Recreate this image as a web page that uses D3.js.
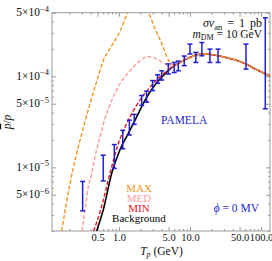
<!DOCTYPE html>
<html>
<head>
<meta charset="utf-8">
<script src="https://cdn.jsdelivr.net/npm/d3@7"></script>
<style>
  body { margin: 0; background: #fff; }
  text { font-family: "Liberation Serif", "DejaVu Serif", serif; }
  .axis path, .axis line { stroke: #999; }
</style>
</head>
<body>
<div id="chart"></div>
<script>
// kinetic energy grid (GeV) and ratio values
var tBg = [0.485, 0.6, 0.79, 1.03, 1.35, 1.77, 2.32, 3.04, 4.0, 5.2, 8, 15, 32, 61, 76, 134];
var bgVals = [2e-6, 3.4e-6, 8.6e-6, 1.55e-5, 2.35e-5, 3.57e-5, 5.43e-5, 7.58e-5, 9.75e-5, 1.2e-4, 1.48e-4, 1.77e-4, 1.61e-4, 1.37e-4, 1.25e-4, 1.01e-4];

var tMin = [0.44, 0.553, 0.747, 0.98, 1.28, 1.77, 2.73, 4.2, 5.5, 8, 15, 32, 61, 76, 134];
var minVals = [2e-6, 3.42e-6, 8.6e-6, 1.83e-5, 3.0e-5, 4.8e-5, 7.6e-5, 1.06e-4, 1.24e-4, 1.48e-4, 1.77e-4, 1.61e-4, 1.37e-4, 1.25e-4, 1.01e-4];

var tMed = [0.301, 0.343, 0.37, 0.413, 0.459, 0.54, 0.635, 0.79, 1.03, 1.43, 1.98, 2.59, 3.39, 4.44, 5.5, 8, 15, 32, 61, 76, 134];
var medVals = [2e-6, 4.05e-6, 6.1e-6, 8.6e-6, 1.3e-5, 2.16e-5, 3.43e-5, 5.43e-5, 8.26e-5, 1.15e-4, 1.48e-4, 1.65e-4, 1.55e-4, 1.37e-4, 1.28e-4, 1.48e-4, 1.77e-4, 1.61e-4, 1.37e-4, 1.25e-4, 1.01e-4];

var tMax = [0.156, 0.204, 0.254, 0.314, 0.39, 0.485, 0.6, 0.8, 1.05, 1.33, 1.7, 2.1, 2.6, 3.3, 4.0, 5.0, 6.0, 8, 15, 32, 61, 76, 134];
var maxVals = [2e-6, 6.6e-6, 1.42e-5, 2.7e-5, 5.0e-5, 8.8e-5, 1.48e-4, 2.2e-4, 3.2e-4, 5e-4, 6.5e-4, 6.6e-4, 5e-4, 3.2e-4, 2.3e-4, 1.5e-4, 1.33e-4, 1.48e-4, 1.77e-4, 1.61e-4, 1.37e-4, 1.25e-4, 1.01e-4];

// PAMELA points
var pT = [0.308, 0.60, 0.86, 1.13, 1.40, 1.64, 2.09, 2.45, 2.98, 3.5, 4.0, 4.95, 6.0, 6.85, 8.3, 10.0, 12.1, 14.7, 19.1, 24.9, 61.5, 115];
var pLo = [3.33e-6, 7.1e-6, 9.75e-6, 1.6e-5, 2.27e-5, 2.97e-5, 4.8e-5, 5.2e-5, 6.98e-5, 8.4e-5, 9.1e-5, 1.06e-4, 1.1e-4, 1.15e-4, 1.31e-4, 1.76e-4, 1.42e-4, 1.68e-4, 1.42e-4, 1.42e-4, 1.2e-4, 4.4e-5];
var pHi = [7.0e-6, 1.36e-5, 1.78e-5, 2.55e-5, 3.3e-5, 3.82e-5, 6.16e-5, 6.86e-5, 8.98e-5, 1.04e-4, 1.15e-4, 1.37e-4, 1.42e-4, 1.47e-4, 1.67e-4, 2.26e-4, 1.83e-4, 2.35e-4, 1.99e-4, 1.99e-4, 2.26e-4, 4.4e-4];

var xMajor = [0.5, 1, 5, 10, 50, 100];
var xMinor = [0.2, 0.3, 0.4, 0.6, 0.7, 0.8, 0.9, 2, 3, 4, 6, 7, 8, 9, 20, 30, 40, 60, 70, 80, 90];
var yMajor = [5e-6, 1e-5, 5e-5, 1e-4, 5e-4];
var yMajorMant = ["5", "1", "5", "1", "5"];
var yMajorExp = ["\u22126", "\u22125", "\u22125", "\u22124", "\u22124"];
var yMinor = [2e-6, 3e-6, 4e-6, 6e-6, 7e-6, 8e-6, 9e-6, 2e-5, 3e-5, 4e-5, 6e-5, 7e-5, 8e-5, 9e-5, 2e-4, 3e-4, 4e-4];

var W = 272, H = 261;
var pLeft = 52, pRight = 270, pTop = 12.7, pBottom = 231;

var svg = d3.select("#chart").append("svg")
  .attr("width", W).attr("height", H);

var x = d3.scaleLog().domain([0.114, 134]).range([pLeft, pRight]);
var y = d3.scaleLog().domain([2e-6, 5e-4]).range([pBottom, pTop]);

svg.append("clipPath").attr("id", "clip")
  .append("rect").attr("x", pLeft).attr("y", pTop)
  .attr("width", pRight - pLeft).attr("height", pBottom - pTop);

// frame
svg.append("rect")
  .attr("x", pLeft).attr("y", pTop)
  .attr("width", pRight - pLeft).attr("height", pBottom - pTop)
  .attr("fill", "none").attr("stroke", "#999");

// x axes (inward ticks)
svg.append("g").attr("class", "axis")
  .attr("transform", "translate(0," + pBottom + ")")
  .call(d3.axisBottom(x).tickValues(xMajor).tickSize(-4).tickPadding(3).tickFormat(d3.format(".1f")))
  .call(g => g.select(".domain").remove())
  .call(g => g.selectAll("text").attr("fill", "#111").style("font-size", "10.5px").style("font-family", "Liberation Serif"));
svg.append("g").attr("class", "axis")
  .attr("transform", "translate(0," + pBottom + ")")
  .call(d3.axisBottom(x).tickValues(xMinor).tickSize(-2).tickFormat(""))
  .call(g => g.select(".domain").remove());
svg.append("g").attr("class", "axis")
  .attr("transform", "translate(0," + pTop + ")")
  .call(d3.axisTop(x).tickValues(xMajor).tickSize(-4).tickFormat(""))
  .call(g => g.select(".domain").remove());
svg.append("g").attr("class", "axis")
  .attr("transform", "translate(0," + pTop + ")")
  .call(d3.axisTop(x).tickValues(xMinor).tickSize(-2).tickFormat(""))
  .call(g => g.select(".domain").remove());

// y axes
svg.append("g").attr("class", "axis")
  .attr("transform", "translate(" + pLeft + ",0)")
  .call(d3.axisLeft(y).tickValues(yMajor).tickSize(-4).tickFormat(""))
  .call(g => g.select(".domain").remove());
svg.append("g").attr("class", "axis")
  .attr("transform", "translate(" + pLeft + ",0)")
  .call(d3.axisLeft(y).tickValues(yMinor).tickSize(-2).tickFormat(""))
  .call(g => g.select(".domain").remove());
svg.append("g").attr("class", "axis")
  .attr("transform", "translate(" + pRight + ",0)")
  .call(d3.axisRight(y).tickValues(yMajor).tickSize(-4).tickFormat(""))
  .call(g => g.select(".domain").remove());
svg.append("g").attr("class", "axis")
  .attr("transform", "translate(" + pRight + ",0)")
  .call(d3.axisRight(y).tickValues(yMinor).tickSize(-2).tickFormat(""))
  .call(g => g.select(".domain").remove());

// y tick labels  a×10^b
var yl = svg.append("g").selectAll("text")
  .data(yMajor)
  .enter().append("text")
  .attr("x", pLeft - 3)
  .attr("y", d => y(d) + 3.5)
  .attr("text-anchor", "end")
  .attr("fill", "#111")
  .style("font-size", "11.5px");
yl.append("tspan").text((d, i) => yMajorMant[i] + "\u00d710");
yl.append("tspan").attr("dy", -4.5).style("font-size", "8.5px").text((d, i) => yMajorExp[i]);

// curves
var line = d3.line()
  .x(d => x(d[0])).y(d => y(d[1]))
  .curve(d3.curveMonotoneX);

var curves = svg.append("g").attr("clip-path", "url(#clip)");

curves.append("path")
  .attr("d", line(d3.zip(tBg, bgVals)))
  .attr("fill", "none").attr("stroke", "#000").attr("stroke-width", 1.6);
curves.append("path")
  .attr("d", line(d3.zip(tMed, medVals)))
  .attr("fill", "none").attr("stroke", "#ff9c9c").attr("stroke-width", 1.4)
  .attr("stroke-dasharray", "4,2");
curves.append("path")
  .attr("d", line(d3.zip(tMin, minVals)))
  .attr("fill", "none").attr("stroke", "#e8141e").attr("stroke-width", 1.4)
  .attr("stroke-dasharray", "4,2");
curves.append("path")
  .attr("d", line(d3.zip(tMax, maxVals)))
  .attr("fill", "none").attr("stroke", "#f0961e").attr("stroke-width", 1.4)
  .attr("stroke-dasharray", "4,2");

// PAMELA error bars
var blue = "#1f1fd6";
var bars = svg.append("g").attr("stroke", blue).attr("stroke-width", 1.5);
pT.forEach(function (t, i) {
  var cx = x(t);
  bars.append("line").attr("x1", cx).attr("x2", cx).attr("y1", y(pLo[i])).attr("y2", y(pHi[i]));
  bars.append("line").attr("x1", cx - 2.5).attr("x2", cx + 2.5).attr("y1", y(pLo[i])).attr("y2", y(pLo[i]));
  bars.append("line").attr("x1", cx - 2.5).attr("x2", cx + 2.5).attr("y1", y(pHi[i])).attr("y2", y(pHi[i]));
});

// annotations
var t1 = svg.append("text").attr("x", 262).attr("y", 27).attr("text-anchor", "end")
  .attr("fill", "#111").style("font-size", "12px").style("word-spacing", "2px");
t1.append("tspan").style("font-style", "italic").text("\u03c3v");
t1.append("tspan").attr("dy", 2.5).style("font-size", "8.5px").text("an");
t1.append("tspan").attr("dy", -2.5).text(" = 1 pb");

var t2 = svg.append("text").attr("x", 262).attr("y", 38).attr("text-anchor", "end")
  .attr("fill", "#111").style("font-size", "11.5px");
t2.append("tspan").style("font-style", "italic").text("m");
t2.append("tspan").attr("dy", 2).style("font-size", "8px").text("DM");
t2.append("tspan").attr("dy", -2).text(" = 10 GeV");

svg.append("text").attr("x", 161).attr("y", 124)
  .attr("fill", blue).style("font-size", "11.5px").text("PAMELA");

var phi = svg.append("text").attr("x", 259).attr("y", 212).attr("text-anchor", "end")
  .attr("fill", blue).style("font-size", "11.5px");
phi.append("tspan").style("font-style", "italic").text("\u03d5");
phi.append("tspan").text(" = 0 MV");

// legend
var legNames = ["MAX", "MED", "MIN", "Background"];
var legColors = ["#f0961e", "#ff9c9c", "#e8141e", "#000"];
svg.append("g").selectAll("text")
  .data(legNames)
  .enter().append("text")
  .attr("x", 139)
  .attr("y", (d, i) => 191.5 + i * 10)
  .attr("text-anchor", "middle")
  .attr("fill", (d, i) => legColors[i])
  .style("font-size", "11px")
  .text(d => d);

// axis titles
var xt = svg.append("text").attr("x", 161.5).attr("y", 255).attr("text-anchor", "middle")
  .attr("fill", "#111").style("font-size", "11.5px");
xt.append("tspan").style("font-style", "italic").text("T");
xt.append("tspan").attr("dy", 2).style("font-style", "italic").style("font-size", "8px").text("p");
xt.append("tspan").attr("dy", -2).text(" (GeV)");

var yt = svg.append("text")
  .attr("transform", "translate(11,122) rotate(-90)")
  .attr("text-anchor", "middle")
  .attr("fill", "#111").style("font-size", "11.5px");
yt.append("tspan").style("font-style", "italic").style("text-decoration", "overline").text("p");
yt.append("tspan").text("/");
yt.append("tspan").style("font-style", "italic").text("p");
</script>
</body>
</html>
